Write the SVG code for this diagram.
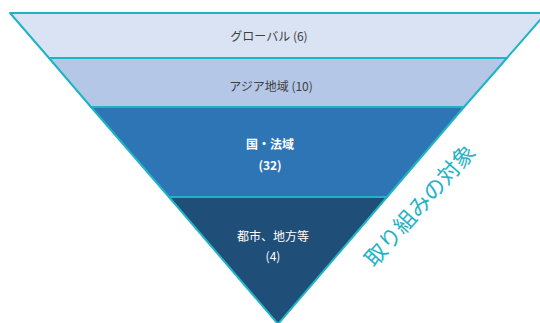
<svg xmlns="http://www.w3.org/2000/svg" width="540" height="323" viewBox="0 0 540 323">
<style>
.layer{stroke:#1fb3c6;stroke-width:2;stroke-linejoin:round}
.t{font-family:"Noto Sans CJK JP","Noto Sans",sans-serif;font-size:12px;text-anchor:middle;dominant-baseline:central}
.dark{fill:#404040}
.light{fill:#ffffff}
.b{font-weight:bold}
</style>
<rect width="540" height="323" fill="#ffffff"/>
<g id="layer-global">
<polygon class="layer" points="10,13 546,13 507,58 49,58" fill="#dae3f3"/>
<text class="t dark" x="269" y="35">グローバル (6)</text>
</g>
<g id="layer-asia">
<polygon class="layer" points="49,58 507,58 464,107 91,107" fill="#b4c7e7"/>
<text class="t dark" x="271" y="85">アジア地域 (10)</text>
</g>
<g id="layer-country">
<polygon class="layer" points="91,107 464,107 387,197 169,197" fill="#2e75b6"/>
<text class="t light b" x="270" y="143">国・法域</text>
<text class="t light b" x="270" y="164">(32)</text>
</g>
<g id="layer-city">
<polygon class="layer" points="169,197 387,197 278,324" fill="#1f4e79"/>
<text class="t light" x="273" y="235">都市、地方等</text>
<text class="t light" x="273" y="255">(4)</text>
</g>
<g id="label-target">
<text transform="translate(418,204) rotate(-48.5)" x="0" y="0" style="font-family:'Noto Sans CJK JP','Noto Sans',sans-serif;font-size:22px;fill:#1fb3c6;text-anchor:middle;dominant-baseline:central">取り組みの対象</text>
</g>
</svg>
